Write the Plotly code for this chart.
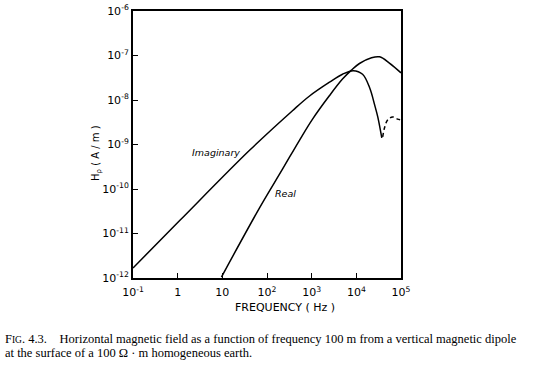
import plotly.graph_objects as go

# Imaginary part (solid, positive)
imag_freq = [0.1, 1.11, 40.7, 372, 897, 2512, 4898, 8510, 13800, 19950, 25700, 30200, 37150]
imag_vals = [1.68e-12, 1.95e-11, 7.4e-10, 5.75e-9, 1.23e-8, 2.51e-8, 3.80e-8,
             4.57e-8, 3.80e-8, 1.86e-8, 7.76e-9, 4.17e-9, 1.41e-9]

# Imaginary part after sign change (dashed)
imag_neg_freq = [38900, 42660, 50100, 64570, 83180, 100000]
imag_neg_vals = [1.48e-9, 2.34e-9, 3.55e-9, 4.17e-9, 3.72e-9, 3.55e-9]

# Real part
real_freq = [9.55, 67.6, 224, 537, 1047, 2512, 4898, 7762, 11750, 21880, 33110, 54950, 100000]
real_vals = [1.05e-12, 3.72e-11, 2.82e-10, 1.26e-9, 3.72e-9, 1.26e-8, 2.95e-8, 4.68e-8,
             6.61e-8, 8.91e-8, 9.33e-8, 6.76e-8, 4.07e-8]

x_tickvals = [0.1, 1, 10, 100, 1e3, 1e4, 1e5]
x_ticktext = ["10<sup>-1</sup>", "1", "10", "10<sup>2</sup>", "10<sup>3</sup>", "10<sup>4</sup>", "10<sup>5</sup>"]
y_tickvals = [1e-12, 1e-11, 1e-10, 1e-9, 1e-8, 1e-7, 1e-6]
y_ticktext = ["10<sup>-12</sup>", "10<sup>-11</sup>", "10<sup>-10</sup>", "10<sup>-9</sup>",
              "10<sup>-8</sup>", "10<sup>-7</sup>", "10<sup>-6</sup>"]

SANS = "DejaVu Sans, Verdana, sans-serif"
SERIF = "Liberation Serif, Times New Roman, serif"

line_style = dict(color="black", width=1.5, shape="spline", smoothing=1.0)

fig = go.Figure()
fig.add_trace(go.Scatter(x=imag_freq, y=imag_vals, mode="lines", line=line_style, showlegend=False))
fig.add_trace(go.Scatter(x=imag_neg_freq, y=imag_neg_vals, mode="lines",
                         line=dict(color="black", width=1.5, shape="spline", smoothing=1.0, dash="4px,3px"),
                         showlegend=False))
fig.add_trace(go.Scatter(x=real_freq, y=real_vals, mode="lines", line=line_style, showlegend=False))

tickfont = dict(family=SANS, size=11, color="black")

fig.update_xaxes(type="log", range=[-1, 5], tickvals=x_tickvals, ticktext=x_ticktext,
                 ticks="inside", ticklen=5, tickwidth=1, tickcolor="black",
                 showline=True, linecolor="black", linewidth=2, mirror=True,
                 showgrid=False, zeroline=False, tickfont=tickfont, automargin=False,
                 ticklabelstandoff=3)
fig.update_yaxes(type="log", range=[-12, -6], tickvals=y_tickvals, ticktext=y_ticktext,
                 ticks="inside", ticklen=5, tickwidth=1, tickcolor="black",
                 showline=True, linecolor="black", linewidth=2, mirror=True,
                 showgrid=False, zeroline=False, tickfont=tickfont, automargin=False)

annots = [
    dict(text="<i>Imaginary</i>", x=0.85, y=-9.19, xref="x", yref="y", showarrow=False,
         font=dict(family=SANS, size=9.5, color="black")),
    dict(text="<i>Real</i>", x=2.42, y=-10.09, xref="x", yref="y", showarrow=False,
         font=dict(family=SANS, size=9.5, color="black")),
    dict(text="FREQUENCY ( Hz )", x=(285 - 133) / 268, y=(278 - 307) / 267, xref="paper", yref="paper",
         showarrow=False, xanchor="center", yanchor="middle",
         font=dict(family=SANS, size=11, color="black")),
    dict(text="H<sub>ρ</sub> ( A / m )", x=(96 - 133) / 268, y=(278 - 153) / 267, xref="paper", yref="paper",
         showarrow=False, textangle=-90, xanchor="center", yanchor="middle",
         font=dict(family=SANS, size=10, color="black")),
    dict(text="F<span style='font-size:9.5px'>IG</span>. 4.3.    Horizontal magnetic field as a function of frequency 100 m from a vertical magnetic dipole",
         x=(3 - 133) / 268, y=(278 - 339) / 267, xref="paper", yref="paper", showarrow=False,
         xanchor="left", yanchor="middle", align="left",
         font=dict(family=SERIF, size=12.5, color="black")),
    dict(text="at the surface of a 100 Ω · m homogeneous earth.",
         x=(3 - 133) / 268, y=(278 - 353) / 267, xref="paper", yref="paper", showarrow=False,
         xanchor="left", yanchor="middle", align="left",
         font=dict(family=SERIF, size=12.5, color="black")),
]

fig.update_layout(width=533, height=372, margin=dict(l=133, r=132, t=11, b=94),
                  paper_bgcolor="white", plot_bgcolor="white", annotations=annots)

fig.write_html("out.html", config={"displayModeBar": False},
               post_script="document.body.style.margin='0';")
